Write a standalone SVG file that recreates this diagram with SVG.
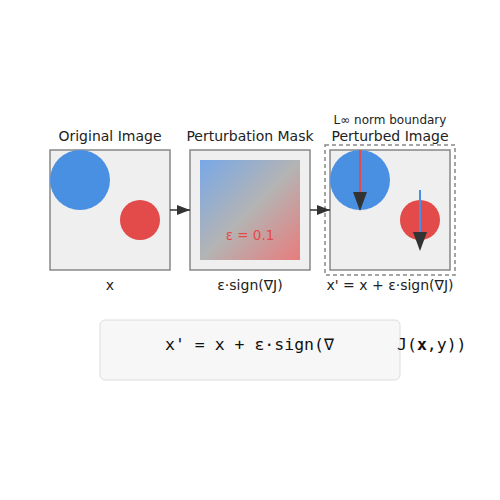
<svg xmlns="http://www.w3.org/2000/svg" width="500" height="500" viewBox="0 0 500 500">
<defs>
<style>
.title{font-family:"DejaVu Sans",sans-serif;font-size:14px;fill:#222;text-anchor:middle}
.lbl{font-family:"DejaVu Sans",sans-serif;font-size:14px;fill:#222;text-anchor:middle}
.box{fill:#efefef;stroke:#888;stroke-width:1.5}
.mono{font-family:"DejaVu Sans Mono",monospace;font-size:16.5px;fill:#111}
</style>
<linearGradient id="g" x1="0" y1="0" x2="1" y2="1">
<stop offset="0" stop-color="#78a8e8"/>
<stop offset="0.5" stop-color="#b4b4b4"/>
<stop offset="1" stop-color="#e87c7c"/>
</linearGradient>
<marker id="ah" markerWidth="13" markerHeight="10" refX="13" refY="5" orient="auto" markerUnits="userSpaceOnUse" viewBox="0 0 13 10">
<path d="M0,0 L13,5 L0,10 z" fill="#333"/>
</marker>
</defs>
<rect width="500" height="500" fill="#fff"/>
<g id="original">
<text class="title" x="110" y="141">Original Image</text>
<rect class="box" x="50" y="150" width="120" height="120"/>
<circle cx="80" cy="180" r="30" fill="#4a90e2"/>
<circle cx="140" cy="220" r="20" fill="#e34a4a"/>
<text class="lbl" x="110" y="290">x</text>
</g>
<g id="mask">
<text class="title" x="250" y="141">Perturbation Mask</text>
<rect class="box" x="190" y="150" width="120" height="120"/>
<rect x="200" y="160" width="100" height="100" fill="url(#g)"/>
<text x="250" y="240" font-family="DejaVu Sans,sans-serif" font-size="13.5" fill="#e34a4a" text-anchor="middle">ε = 0.1</text>
<text class="lbl" x="250" y="290">ε·sign(∇J)</text>
</g>
<g id="perturbed">
<rect x="325" y="145" width="130" height="130" fill="none" stroke="#888" stroke-width="1.5" stroke-dasharray="4,3"/>
<text x="390" y="124" font-family="DejaVu Sans,sans-serif" font-size="12" fill="#222" text-anchor="middle">L∞ norm boundary</text>
<text class="title" x="390" y="141">Perturbed Image</text>
<rect class="box" x="330" y="150" width="120" height="120"/>
<circle cx="360" cy="180" r="30" fill="#4a90e2"/>
<circle cx="420" cy="220" r="20" fill="#e34a4a"/>
<line x1="360" y1="150" x2="360" y2="194" stroke="#e34a4a" stroke-width="2"/>
<path d="M353,192 L367,192 L360,211 z" fill="#333"/>
<line x1="420" y1="190" x2="420" y2="234" stroke="#4a90e2" stroke-width="2"/>
<path d="M413,232 L427,232 L420,251 z" fill="#333"/>
<text class="lbl" x="390" y="290">x' = x + ε·sign(∇J)</text>
</g>
<g id="connectors">
<line x1="170" y1="210" x2="190" y2="210" stroke="#333" stroke-width="1.5" marker-end="url(#ah)"/>
<line x1="310" y1="210" x2="330" y2="210" stroke="#333" stroke-width="1.5" marker-end="url(#ah)"/>
</g>
<g id="formula">
<rect x="100" y="320" width="300" height="60" rx="5" fill="#f7f7f7" stroke="#ddd" stroke-width="1"/>
<text class="mono" x="165" y="350">x' = x + ε·sign(∇</text>
<text class="mono" x="397" y="350">J(<tspan font-weight="bold">x</tspan>,y))</text>
</g>
</svg>
